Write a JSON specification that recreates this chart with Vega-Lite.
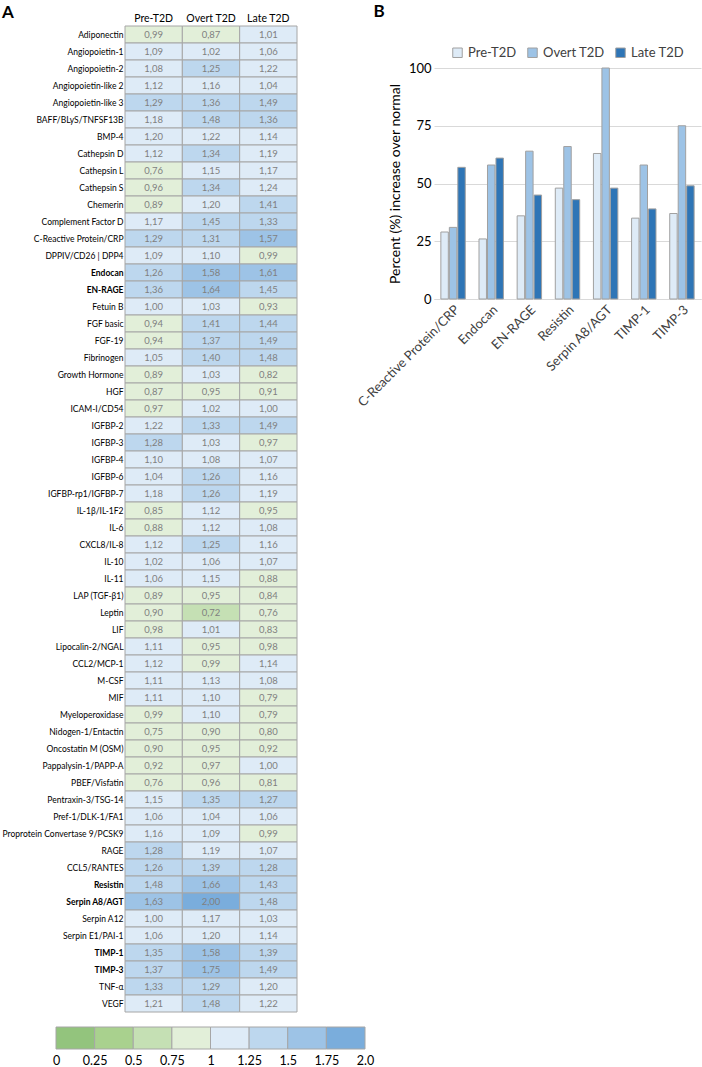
{
  "$schema": "https://vega.github.io/schema/vega-lite/v6.json",
  "padding": {"left": 2, "top": 3, "right": 2, "bottom": 0},
  "autosize": {"type": "pad"},
  "config": {
    "font": "Lato",
    "view": {"stroke": null},
    "legend": {"layout": {"top": {"anchor": "middle"}}},
    "locale": {"number": {"decimal": ",", "thousands": ".", "grouping": [3], "currency": ["", " €"]}}
  },
  "datasets": {
    "heat": [
      {"protein": "Adiponectin", "Pre-T2D": 0.99, "Overt T2D": 0.87, "Late T2D": 1.01},
      {"protein": "Angiopoietin-1", "Pre-T2D": 1.09, "Overt T2D": 1.02, "Late T2D": 1.06},
      {"protein": "Angiopoietin-2", "Pre-T2D": 1.08, "Overt T2D": 1.25, "Late T2D": 1.22},
      {"protein": "Angiopoietin-like 2", "Pre-T2D": 1.12, "Overt T2D": 1.16, "Late T2D": 1.04},
      {"protein": "Angiopoietin-like 3", "Pre-T2D": 1.29, "Overt T2D": 1.36, "Late T2D": 1.49},
      {"protein": "BAFF/BLyS/TNFSF13B", "Pre-T2D": 1.18, "Overt T2D": 1.48, "Late T2D": 1.36},
      {"protein": "BMP-4", "Pre-T2D": 1.20, "Overt T2D": 1.22, "Late T2D": 1.14},
      {"protein": "Cathepsin D", "Pre-T2D": 1.12, "Overt T2D": 1.34, "Late T2D": 1.19},
      {"protein": "Cathepsin L", "Pre-T2D": 0.76, "Overt T2D": 1.15, "Late T2D": 1.17},
      {"protein": "Cathepsin S", "Pre-T2D": 0.96, "Overt T2D": 1.34, "Late T2D": 1.24},
      {"protein": "Chemerin", "Pre-T2D": 0.89, "Overt T2D": 1.20, "Late T2D": 1.41},
      {"protein": "Complement Factor D", "Pre-T2D": 1.17, "Overt T2D": 1.45, "Late T2D": 1.33},
      {"protein": "C-Reactive Protein/CRP", "Pre-T2D": 1.29, "Overt T2D": 1.31, "Late T2D": 1.57},
      {"protein": "DPPIV/CD26 | DPP4", "Pre-T2D": 1.09, "Overt T2D": 1.10, "Late T2D": 0.99},
      {"protein": "Endocan", "Pre-T2D": 1.26, "Overt T2D": 1.58, "Late T2D": 1.61},
      {"protein": "EN-RAGE", "Pre-T2D": 1.36, "Overt T2D": 1.64, "Late T2D": 1.45},
      {"protein": "Fetuin B", "Pre-T2D": 1.00, "Overt T2D": 1.03, "Late T2D": 0.93},
      {"protein": "FGF basic", "Pre-T2D": 0.94, "Overt T2D": 1.41, "Late T2D": 1.44},
      {"protein": "FGF-19", "Pre-T2D": 0.94, "Overt T2D": 1.37, "Late T2D": 1.49},
      {"protein": "Fibrinogen", "Pre-T2D": 1.05, "Overt T2D": 1.40, "Late T2D": 1.48},
      {"protein": "Growth Hormone", "Pre-T2D": 0.89, "Overt T2D": 1.03, "Late T2D": 0.82},
      {"protein": "HGF", "Pre-T2D": 0.87, "Overt T2D": 0.95, "Late T2D": 0.91},
      {"protein": "ICAM-I/CD54", "Pre-T2D": 0.97, "Overt T2D": 1.02, "Late T2D": 1.00},
      {"protein": "IGFBP-2", "Pre-T2D": 1.22, "Overt T2D": 1.33, "Late T2D": 1.49},
      {"protein": "IGFBP-3", "Pre-T2D": 1.28, "Overt T2D": 1.03, "Late T2D": 0.97},
      {"protein": "IGFBP-4", "Pre-T2D": 1.10, "Overt T2D": 1.08, "Late T2D": 1.07},
      {"protein": "IGFBP-6", "Pre-T2D": 1.04, "Overt T2D": 1.26, "Late T2D": 1.16},
      {"protein": "IGFBP-rp1/IGFBP-7", "Pre-T2D": 1.18, "Overt T2D": 1.26, "Late T2D": 1.19},
      {"protein": "IL-1β/IL-1F2", "Pre-T2D": 0.85, "Overt T2D": 1.12, "Late T2D": 0.95},
      {"protein": "IL-6", "Pre-T2D": 0.88, "Overt T2D": 1.12, "Late T2D": 1.08},
      {"protein": "CXCL8/IL-8", "Pre-T2D": 1.12, "Overt T2D": 1.25, "Late T2D": 1.16},
      {"protein": "IL-10", "Pre-T2D": 1.02, "Overt T2D": 1.06, "Late T2D": 1.07},
      {"protein": "IL-11", "Pre-T2D": 1.06, "Overt T2D": 1.15, "Late T2D": 0.88},
      {"protein": "LAP (TGF-β1)", "Pre-T2D": 0.89, "Overt T2D": 0.95, "Late T2D": 0.84},
      {"protein": "Leptin", "Pre-T2D": 0.90, "Overt T2D": 0.72, "Late T2D": 0.76},
      {"protein": "LIF", "Pre-T2D": 0.98, "Overt T2D": 1.01, "Late T2D": 0.83},
      {"protein": "Lipocalin-2/NGAL", "Pre-T2D": 1.11, "Overt T2D": 0.95, "Late T2D": 0.98},
      {"protein": "CCL2/MCP-1", "Pre-T2D": 1.12, "Overt T2D": 0.99, "Late T2D": 1.14},
      {"protein": "M-CSF", "Pre-T2D": 1.11, "Overt T2D": 1.13, "Late T2D": 1.08},
      {"protein": "MIF", "Pre-T2D": 1.11, "Overt T2D": 1.10, "Late T2D": 0.79},
      {"protein": "Myeloperoxidase", "Pre-T2D": 0.99, "Overt T2D": 1.10, "Late T2D": 0.79},
      {"protein": "Nidogen-1/Entactin", "Pre-T2D": 0.75, "Overt T2D": 0.90, "Late T2D": 0.80},
      {"protein": "Oncostatin M (OSM)", "Pre-T2D": 0.90, "Overt T2D": 0.95, "Late T2D": 0.92},
      {"protein": "Pappalysin-1/PAPP-A", "Pre-T2D": 0.92, "Overt T2D": 0.97, "Late T2D": 1.00},
      {"protein": "PBEF/Visfatin", "Pre-T2D": 0.76, "Overt T2D": 0.96, "Late T2D": 0.81},
      {"protein": "Pentraxin-3/TSG-14", "Pre-T2D": 1.15, "Overt T2D": 1.35, "Late T2D": 1.27},
      {"protein": "Pref-1/DLK-1/FA1", "Pre-T2D": 1.06, "Overt T2D": 1.04, "Late T2D": 1.06},
      {"protein": "Proprotein Convertase 9/PCSK9", "Pre-T2D": 1.16, "Overt T2D": 1.09, "Late T2D": 0.99},
      {"protein": "RAGE", "Pre-T2D": 1.28, "Overt T2D": 1.19, "Late T2D": 1.07},
      {"protein": "CCL5/RANTES", "Pre-T2D": 1.26, "Overt T2D": 1.39, "Late T2D": 1.28},
      {"protein": "Resistin", "Pre-T2D": 1.48, "Overt T2D": 1.66, "Late T2D": 1.43},
      {"protein": "Serpin A8/AGT", "Pre-T2D": 1.63, "Overt T2D": 2.00, "Late T2D": 1.48},
      {"protein": "Serpin A12", "Pre-T2D": 1.00, "Overt T2D": 1.17, "Late T2D": 1.03},
      {"protein": "Serpin E1/PAI-1", "Pre-T2D": 1.06, "Overt T2D": 1.20, "Late T2D": 1.14},
      {"protein": "TIMP-1", "Pre-T2D": 1.35, "Overt T2D": 1.58, "Late T2D": 1.39},
      {"protein": "TIMP-3", "Pre-T2D": 1.37, "Overt T2D": 1.75, "Late T2D": 1.49},
      {"protein": "TNF-α", "Pre-T2D": 1.33, "Overt T2D": 1.29, "Late T2D": 1.20},
      {"protein": "VEGF", "Pre-T2D": 1.21, "Overt T2D": 1.48, "Late T2D": 1.22}
    ],
    "bins": [
      {"lo": 0, "hi": 0.25, "bin": "b1"},
      {"lo": 0.25, "hi": 0.5, "bin": "b2"},
      {"lo": 0.5, "hi": 0.75, "bin": "b3"},
      {"lo": 0.75, "hi": 1, "bin": "b4"},
      {"lo": 1, "hi": 1.25, "bin": "b5"},
      {"lo": 1.25, "hi": 1.5, "bin": "b6"},
      {"lo": 1.5, "hi": 1.75, "bin": "b7"},
      {"lo": 1.75, "hi": 2, "bin": "b8"}
    ],
    "bars": [
      {"protein": "C-Reactive Protein/CRP", "stage": "Pre-T2D", "pct": 29},
      {"protein": "C-Reactive Protein/CRP", "stage": "Overt T2D", "pct": 31},
      {"protein": "C-Reactive Protein/CRP", "stage": "Late T2D", "pct": 57},
      {"protein": "Endocan", "stage": "Pre-T2D", "pct": 26},
      {"protein": "Endocan", "stage": "Overt T2D", "pct": 58},
      {"protein": "Endocan", "stage": "Late T2D", "pct": 61},
      {"protein": "EN-RAGE", "stage": "Pre-T2D", "pct": 36},
      {"protein": "EN-RAGE", "stage": "Overt T2D", "pct": 64},
      {"protein": "EN-RAGE", "stage": "Late T2D", "pct": 45},
      {"protein": "Resistin", "stage": "Pre-T2D", "pct": 48},
      {"protein": "Resistin", "stage": "Overt T2D", "pct": 66},
      {"protein": "Resistin", "stage": "Late T2D", "pct": 43},
      {"protein": "Serpin A8/AGT", "stage": "Pre-T2D", "pct": 63},
      {"protein": "Serpin A8/AGT", "stage": "Overt T2D", "pct": 100},
      {"protein": "Serpin A8/AGT", "stage": "Late T2D", "pct": 48},
      {"protein": "TIMP-1", "stage": "Pre-T2D", "pct": 35},
      {"protein": "TIMP-1", "stage": "Overt T2D", "pct": 58},
      {"protein": "TIMP-1", "stage": "Late T2D", "pct": 39},
      {"protein": "TIMP-3", "stage": "Pre-T2D", "pct": 37},
      {"protein": "TIMP-3", "stage": "Overt T2D", "pct": 75},
      {"protein": "TIMP-3", "stage": "Late T2D", "pct": 49}
    ]
  },
  "hconcat": [
    {
      "vconcat": [
        {
          "width": 172,
          "height": 986,
          "title": {"text": "A", "anchor": "start", "frame": "bounds", "fontSize": 17, "fontWeight": "bold", "offset": -9},
          "data": {"name": "heat"},
          "transform": [{"fold": ["Pre-T2D", "Overt T2D", "Late T2D"], "as": ["stage", "v"]}],
          "encoding": {
            "y": {
              "field": "protein", "type": "nominal", "sort": null,
              "scale": {"paddingInner": 0, "paddingOuter": 0},
              "axis": {
                "title": null, "ticks": false, "domain": false, "labelPadding": 2,
                "labelFontSize": 8.5, "labelColor": "#000000",
                "labelFontWeight": {"expr": "indexof(['Endocan','EN-RAGE','Resistin','Serpin A8/AGT','TIMP-1','TIMP-3'], datum.value) >= 0 ? 'bold' : 'normal'"}
              }
            },
            "x": {
              "field": "stage", "type": "nominal", "sort": ["Pre-T2D", "Overt T2D", "Late T2D"],
              "scale": {"paddingInner": 0, "paddingOuter": 0},
              "axis": {"orient": "top", "title": null, "ticks": false, "domain": false, "labelAngle": 0, "labelPadding": 3, "labelFontSize": 10.5, "labelColor": "#000000"}
            }
          },
          "layer": [
            {
              "mark": {"type": "rect", "stroke": "#a6a6a6", "strokeWidth": 1},
              "encoding": {
                "fill": {
                  "field": "v", "type": "quantitative", "legend": null,
                  "scale": {"type": "threshold", "domain": [0.25, 0.5, 0.75, 1, 1.25, 1.5, 1.76],
                    "range": ["#93c47d", "#a9d18e", "#c5e0b4", "#e2efd9", "#deebf7", "#bdd7ee", "#9dc3e6", "#7aaddc"]}
                }
              }
            },
            {
              "mark": {"type": "text", "fontSize": 9.5, "color": "#808080"},
              "encoding": {"text": {"field": "v", "type": "quantitative", "format": ".2f"}}
            }
          ]
        },
        {
          "width": 240,
          "height": 22,
          "data": {"name": "bins"},
          "mark": {"type": "rect", "stroke": "#a6a6a6", "strokeWidth": 1},
          "encoding": {
            "x": {
              "field": "lo", "type": "quantitative",
              "scale": {"domain": [0, 2], "range": [-69, 240], "nice": false, "zero": false},
              "axis": {
                "title": null, "ticks": false, "domain": false, "grid": false,
                "values": [0, 0.25, 0.5, 0.75, 1, 1.25, 1.5, 1.75, 2],
                "format": ".2~f", "labelFontSize": 12.5, "labelColor": "#000000", "labelPadding": 5,
                "labelFlush": false,
                "labelExpr": "datum.value == 2 ? '2.0' : replace(datum.label, ',', '.')"
              }
            },
            "x2": {"field": "hi"},
            "fill": {
              "field": "bin", "type": "nominal", "legend": null,
              "scale": {"domain": ["b1", "b2", "b3", "b4", "b5", "b6", "b7", "b8"],
                "range": ["#93c47d", "#a9d18e", "#c5e0b4", "#e2efd9", "#deebf7", "#bdd7ee", "#9dc3e6", "#7aaddc"]}
            }
          }
        }
      ],
      "spacing": 13,
      "resolve": {"scale": {"fill": "independent"}, "legend": {"fill": "independent"}}
    },
    {
      "title": {"text": "B", "anchor": "start", "frame": "bounds", "fontSize": 17, "fontWeight": "bold", "offset": 5, "dx": 18},
      "vconcat": [
        {
          "width": 267,
          "height": 1,
          "data": {"values": [{}]},
          "mark": {"type": "rect", "opacity": 0},
          "encoding": {}
        },
        {
          "width": 267,
          "height": 231,
          "data": {"name": "bars"},
          "mark": {"type": "bar", "stroke": "#a0a0a0", "strokeWidth": 1},
          "encoding": {
            "x": {
              "field": "protein", "type": "nominal", "sort": null,
              "scale": {"paddingInner": 0.36, "paddingOuter": 0.18},
              "axis": {"title": null, "labelAngle": -45, "labelFontSize": 13, "labelColor": "#404040", "ticks": false, "domainColor": "#d9d9d9", "labelPadding": 4}
            },
            "xOffset": {"field": "stage", "type": "nominal", "sort": ["Pre-T2D", "Overt T2D", "Late T2D"], "scale": {"paddingInner": 0.12}},
            "y": {
              "field": "pct", "type": "quantitative",
              "scale": {"domain": [0, 100], "nice": false},
              "axis": {"title": "Percent (%) increase over normal", "titleFontSize": 14, "titleFontWeight": "normal", "titleColor": "#000000",
                "values": [0, 25, 50, 75, 100], "labelFontSize": 13, "labelColor": "#000000", "ticks": false, "domain": false,
                "gridColor": "#d9d9d9", "labelPadding": 3, "titlePadding": 6}
            },
            "fill": {
              "field": "stage", "type": "nominal",
              "scale": {"domain": ["Pre-T2D", "Overt T2D", "Late T2D"], "range": ["#deebf7", "#9dc3e6", "#2e75b6"]},
              "legend": {"orient": "top", "direction": "horizontal", "title": null, "symbolType": "square", "symbolSize": 90,
                "symbolStrokeColor": "#a0a0a0", "symbolStrokeWidth": 1, "labelFontSize": 13, "labelColor": "#404040", "columnPadding": 8, "offset": 8}
            }
          }
        }
      ],
      "spacing": 19,
      "resolve": {"scale": {"fill": "independent"}, "legend": {"fill": "independent"}}
    }
  ],
  "spacing": -89,
  "resolve": {"scale": {"fill": "independent"}, "legend": {"fill": "independent"}}
}
